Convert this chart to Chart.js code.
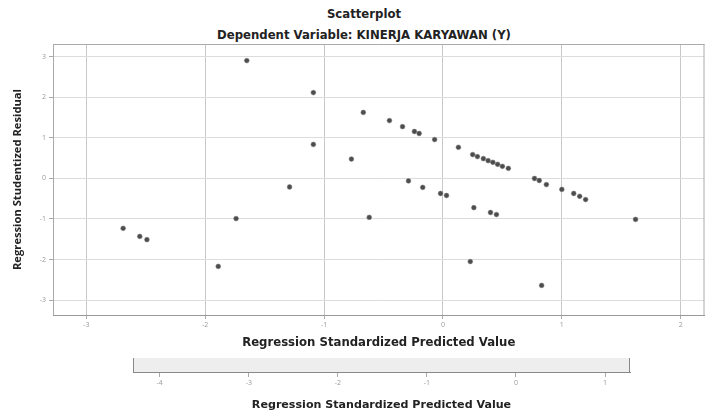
<!DOCTYPE html>
<html>
<head>
<meta charset="utf-8">
<script src="https://cdn.jsdelivr.net/npm/chart.js@4.4.0/dist/chart.umd.min.js"></script>
<style>
  html, body { margin: 0; padding: 0; background: #fff; }
  #wrap { position: relative; width: 709px; height: 414px; overflow: hidden; }
  .judul { position: absolute; left: 0; width: 728px; text-align: center; font-family: 'DejaVu Sans', sans-serif; font-weight: bold; font-size: 11.7px; line-height: 16px; color: #222; }
  #main { position: absolute; left: 0; top: 0; }
  #strip { position: absolute; left: 0; top: 352px; }
</style>
</head>
<body>
<div id="wrap">
  <div class="judul" style="top:6px">Scatterplot</div>
  <div class="judul" style="top:27px">Dependent Variable: KINERJA KARYAWAN (Y)</div>
  <canvas id="main" width="709" height="352"></canvas>
  <canvas id="strip" width="709" height="62"></canvas>
</div>
<script>
// regression standardized predicted value (x) and studentized residual (y)
const predicted = [
  -1.65, -1.09, -0.67, -1.09, -0.77, -1.29, -2.69, -2.55, -2.49, -1.74, -1.89, -0.62,
  -0.45, -0.34, -0.24, -0.20, -0.07, 0.13,
  0.25, 0.29, 0.34, 0.38, 0.42, 0.46, 0.50, 0.55,
  0.77, 0.81, 0.87, 1.00, 1.10, 1.15, 1.20, 1.62,
  -0.29, -0.17, -0.02, 0.03, 0.26, 0.40, 0.45, 0.23, 0.83
];
const residual = [
  2.91, 2.12, 1.63, 0.84, 0.48, -0.21, -1.23, -1.43, -1.51, -0.99, -2.17, -0.96,
  1.43, 1.28, 1.16, 1.11, 0.96, 0.77,
  0.59, 0.54, 0.49, 0.44, 0.40, 0.35, 0.30, 0.25,
  0.00, -0.05, -0.15, -0.27, -0.37, -0.44, -0.52, -1.01,
  -0.06, -0.22, -0.37, -0.42, -0.72, -0.84, -0.89, -2.05, -2.64
];
const xTicks = [-3, -2, -1, 0, 1, 2];
const yTicks = [-3, -2, -1, 0, 1, 2, 3];
const stripTicks = [-4, -3, -2, -1, 0, 1];

const FONT = "'Open Sans', sans-serif";
const FONT_JUDUL = "'DejaVu Sans', sans-serif";
const judulSumbu = 'Regression Standardized Predicted Value';

// draws the plot frame (and optional fill) around chartArea
const bingkai = {
  id: 'bingkai',
  beforeDraw(chart, args, opts) {
    const a = chart.chartArea;
    if (opts.fill) {
      chart.ctx.fillStyle = opts.fill;
      chart.ctx.fillRect(a.left, a.top, a.right - a.left, a.bottom - a.top);
    }
  },
  afterDraw(chart, args, opts) {
    const a = chart.chartArea;
    const ctx = chart.ctx;
    ctx.save();
    ctx.strokeStyle = opts.color || '#999';
    ctx.lineWidth = 1;
    ctx.beginPath();
    if (opts.top) { ctx.moveTo(a.left, a.top + 0.5); ctx.lineTo(a.right, a.top + 0.5); }
    ctx.moveTo(a.left + 0.5, a.top); ctx.lineTo(a.left + 0.5, a.bottom);
    ctx.moveTo(a.right - 0.5, a.top); ctx.lineTo(a.right - 0.5, a.bottom);
    ctx.stroke();
    ctx.restore();
  },
};

function init() {
  new Chart(document.getElementById('main'), {
    type: 'scatter',
    data: {
      datasets: [
        {
          data: predicted.map((x, i) => ({ x, y: residual[i] })),
          pointRadius: 2.4,
          pointBackgroundColor: '#4d4d4d',
          pointBorderColor: '#777',
          pointBorderWidth: 0.5,
        },
      ],
    },
    options: {
      responsive: false,
      animation: false,
      layout: { padding: { top: 44, right: 2, left: 0, bottom: 0 } },
      plugins: {
        legend: { display: false },
        tooltip: { enabled: false },
        bingkai: { color: '#aaa', top: true },
      },
      scales: {
        x: {
          type: 'linear',
          min: -3.28,
          max: 2.2,
          afterBuildTicks: (s) => { s.ticks = xTicks.map((v) => ({ value: v })); },
          afterFit: (s) => { s.height = 37; },
          grid: { color: '#c8c8c8', tickLength: 4, tickColor: '#aaa' },
          border: { color: '#999' },
          ticks: { font: { family: FONT, size: 7 }, color: '#999', padding: 2, maxRotation: 0 },
          title: {
            display: true,
            text: judulSumbu,
            font: { family: FONT_JUDUL, size: 11.7, weight: 'bold' },
            color: '#222',
            padding: { top: 0, bottom: 2 },
          },
        },
        y: {
          type: 'linear',
          min: -3.37,
          max: 3.32,
          afterBuildTicks: (s) => { s.ticks = yTicks.map((v) => ({ value: v })); },
          afterFit: (s) => { s.width = 53; },
          grid: { color: '#dcdcdc', tickLength: 4, tickColor: '#aaa' },
          border: { color: '#999' },
          ticks: { font: { family: FONT, size: 7 }, color: '#999', padding: 3 },
          title: {
            display: true,
            text: 'Regression Studentized Residual',
            font: { family: FONT, size: 11.2, weight: 'bold' },
            color: '#222',
            padding: { top: 11, bottom: 11 },
          },
        },
      },
    },
    plugins: [bingkai],
  });

  // cropped strip of a second plot underneath
  new Chart(document.getElementById('strip'), {
    type: 'scatter',
    data: { datasets: [] },
    options: {
      responsive: false,
      animation: false,
      layout: { padding: { top: 6, left: 133, right: 79, bottom: 0 } },
      plugins: {
        legend: { display: false },
        tooltip: { enabled: false },
        bingkai: { color: '#888', fill: '#eeeeee' },
      },
      scales: {
        x: {
          type: 'linear',
          min: -4.3,
          max: 1.28,
          afterBuildTicks: (s) => { s.ticks = stripTicks.map((v) => ({ value: v })); },
          afterFit: (s) => { s.height = 42; },
          grid: { drawOnChartArea: false, tickLength: 5, tickColor: '#aaa' },
          border: { color: '#888' },
          ticks: { font: { family: FONT, size: 7 }, color: '#999', padding: 2, maxRotation: 0 },
          title: {
            display: true,
            text: judulSumbu,
            font: { family: FONT_JUDUL, size: 11.1, weight: 'bold' },
            color: '#222',
            padding: { top: 0, bottom: 2 },
          },
        },
        y: { display: false, min: 0, max: 1 },
      },
    },
    plugins: [bingkai],
  });
}

document.addEventListener('DOMContentLoaded', init);
</script>
</body>
</html>
